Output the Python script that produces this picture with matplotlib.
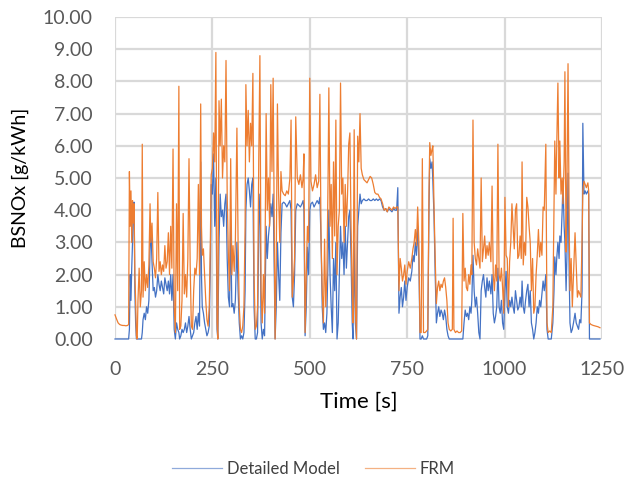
import matplotlib
matplotlib.use("Agg")
import matplotlib.pyplot as plt

plt.rcParams['font.family'] = ['Lato', 'DejaVu Sans']

# time [s]
t = [0, 4, 8, 12, 16, 20, 24, 28, 32, 35,
     37, 39, 41, 43, 45, 47, 49, 51, 53, 55,
     57, 59, 62, 65, 68, 70, 72, 75, 78, 81,
     84, 87, 90, 92, 95, 98, 101, 104, 107, 110,
     113, 116, 119, 122, 125, 128, 131, 134, 137, 140,
     143, 146, 149, 152, 155, 158, 161, 164, 166, 169,
     172, 175, 178, 181, 184, 187, 190, 193, 196, 199,
     202, 205, 208, 211, 214, 217, 220, 222, 224, 227,
     230, 233, 236, 239, 242, 245, 247, 250, 253, 256,
     259, 262, 264, 267, 270, 273, 276, 279, 282, 285,
     288, 291, 294, 297, 300, 303, 306, 309, 313, 316,
     319, 322, 325, 328, 331, 334, 336, 339, 342, 345,
     348, 351, 354, 357, 360, 363, 366, 369, 372, 375,
     378, 381, 384, 388, 391, 394, 397, 400, 403, 406,
     409, 411, 414, 417, 420, 423, 426, 429, 433, 437,
     441, 445, 449, 452, 455, 458, 461, 464, 468, 472,
     476, 480, 483, 485, 488, 491, 494, 497, 500, 503,
     507, 511, 515, 519, 523, 526, 529, 532, 535, 538,
     541, 544, 547, 549, 552, 555, 558, 561, 564, 567,
     570, 573, 576, 579, 582, 585, 588, 591, 594, 597,
     600, 603, 606, 609, 611, 614, 617, 620, 623, 626,
     629, 632, 635, 639, 643, 647, 651, 655, 659, 663,
     667, 671, 675, 679, 683, 687, 691, 695, 699, 703,
     707, 711, 715, 719, 723, 726, 729, 732, 735, 738,
     741, 744, 747, 750, 754, 758, 762, 765, 768, 771,
     774, 777, 780, 783, 786, 789, 792, 796, 800, 803,
     806, 808, 811, 814, 816, 819, 822, 825, 828, 831,
     834, 837, 840, 843, 846, 849, 852, 855, 858, 862,
     866, 868, 870, 874, 878, 882, 886, 890, 893, 896,
     899, 902, 905, 908, 911, 914, 916, 919, 922, 925,
     928, 931, 934, 937, 940, 943, 946, 949, 952, 955,
     958, 961, 965, 968, 971, 974, 977, 980, 983, 986,
     989, 992, 995, 998, 1001, 1004, 1007, 1010, 1013, 1016,
     1019, 1022, 1025, 1028, 1031, 1034, 1037, 1040, 1043, 1045,
     1048, 1051, 1054, 1057, 1060, 1063, 1066, 1069, 1072, 1075,
     1078, 1081, 1084, 1087, 1090, 1093, 1096, 1099, 1102, 1106,
     1109, 1112, 1116, 1120, 1124, 1127, 1129, 1132, 1134, 1137,
     1140, 1142, 1145, 1148, 1150, 1153, 1155, 1158, 1160, 1163,
     1166, 1168, 1171, 1174, 1177, 1181, 1184, 1187, 1190, 1193,
     1196, 1199, 1201, 1204, 1207, 1210, 1214, 1216, 1218, 1222,
     1228, 1234, 1240, 1245]

# BSNOx [g/kWh], detailed model
detailed = [0, 0, 0, 0, 0, 0, 0, 0, 0, 0,
            0.3, 2.0, 1.2, 2.2, 3.0, 4.1, 4.25, 1.5, 0.5, 0,
            0, 0, 0, 0, 0, 0.2, 0.6, 0.8, 0.6, 1.0,
            0.8, 1.2, 2.75, 3.5, 2.4, 1.5, 1.6, 1.3, 1.5, 2.0,
            1.7, 1.5, 1.8, 1.6, 1.4, 1.9, 1.7, 1.5, 1.8, 1.4,
            2.0, 1.2, 2.0, 0.3, 0, 0.5, 0.3, 0.2, 0, 0.1,
            0.3, 0.2, 0.3, 0.5, 0.2, 0.4, 0.7, 0.3, 0, 0.1,
            0.2, 0.5, 0.7, 0.3, 0.8, 0.4, 5.5, 2.0, 1.0, 0.8,
            0.5, 0.3, 0.1, 0.2, 0.4, 2.5, 4.8, 4.5, 5.75, 3.5,
            5.0, 0.3, 0, 3.0, 4.5, 3.8, 4.0, 3.5, 4.2, 4.5,
            2.5, 1.3, 1.0, 3.5, 1.0, 1.1, 0.8, 1.2, 3.0, 1.5,
            0.5, 0, 0.1, 0, 0.2, 1.5, 4.0, 4.8, 5.0, 4.6,
            4.1, 4.8, 5.0, 1.0, 0, 0, 0.2, 3.5, 4.5, 0.5,
            0, 0.3, 0.1, 3.5, 2.5, 3.2, 3.6, 4.2, 3.8, 4.5,
            2.0, 0, 1.0, 3.0, 2.0, 1.2, 3.3, 4.2, 4.25, 4.2,
            4.1, 4.2, 4.3, 4.0, 1.3, 1.0, 2.0, 4.0, 4.2, 4.15,
            4.1, 4.2, 4.3, 4.0, 0.1, 1.0, 2.85, 2.0, 4.0, 4.2,
            4.25, 4.1, 4.2, 4.3, 4.2, 4.4, 3.05, 1.0, 0.3, 0.5,
            0.2, 0.8, 2.5, 4.0, 2.0, 1.0, 0.2, 2.5, 1.5, 3.0,
            0, 0.5, 2.0, 3.5, 2.5, 3.0, 2.0, 3.5, 2.2, 3.0,
            3.8, 4.0, 2.5, 0.5, 0, 3.0, 0.5, 0, 3.5, 4.0,
            4.5, 4.2, 4.3, 4.35, 4.3, 4.3, 4.35, 4.3, 4.3, 4.35,
            4.3, 4.35, 4.3, 4.35, 4.3, 4.1, 4.0, 4.05, 3.95, 4.05,
            4.0, 3.95, 4.05, 4.0, 4.0, 4.7, 0.8, 1.3, 1.6, 1.0,
            1.3, 1.8, 1.2, 1.6, 1.9, 1.8, 2.1, 2.6, 2.4, 3.0,
            2.6, 3.5, 2.5, 0, 0, 0.1, 0, 0, 0, 0.1,
            4.0, 5.6, 5.3, 5.5, 4.9, 3.8, 2.0, 0.5, 0.8, 1.0,
            0.7, 0.9, 0.8, 0.6, 0.9, 0.7, 0.3, 0.1, 0, 0,
            0, 0, 0, 0, 0, 0, 0, 0, 0, 0.5,
            0.9, 0.7, 0.8, 0.6, 1.0, 0.8, 1.2, 2.6, 1.5, 1.0,
            1.3, 0.8, 0.2, 0, 1.5, 1.8, 2.0, 1.6, 1.3, 1.9,
            1.5, 1.8, 1.4, 2.0, 0.8, 0.5, 0.7, 1.0, 2.2, 1.0,
            0.8, 1.2, 0.5, 0.3, 1.5, 2.1, 1.0, 0.8, 1.2, 1.0,
            1.3, 1.0, 0.8, 1.5, 1.2, 0.9, 1.0, 1.3, 1.0, 1.8,
            1.0, 0.8, 1.2, 1.5, 1.7, 1.0, 1.5, 0.5, 0.3, 0,
            0.2, 0.5, 1.0, 0.8, 1.2, 1.0, 1.4, 1.8, 1.5, 2.0,
            0.3, 0, 0, 0, 0.5, 1.5, 2.55, 2.0, 2.5, 3.0,
            2.5, 3.2, 3.0, 4.0, 4.9, 3.5, 3.0, 1.5, 2.5, 5.15,
            2.0, 0.5, 0.2, 0.3, 0.5, 0.8, 0.5, 0.4, 0.3, 0.6,
            0.5, 1.5, 6.7, 4.5, 4.6, 4.5, 4.6, 4.5, 0, 0,
            0, 0, 0, 0]

# BSNOx [g/kWh], FRM
frm = [0.75, 0.62, 0.5, 0.45, 0.43, 0.42, 0.42, 0.41, 0.42, 0.45,
       5.2, 3.5, 4.6, 3.0, 4.3, 3.6, 4.2, 2.0, 1.2, 0.1,
       0, 1.2, 2.2, 1.0, 1.5, 6.05, 1.3, 2.4, 1.5, 2.0,
       1.6, 2.3, 4.2, 3.0, 3.6, 2.4, 2.2, 1.9, 2.5, 4.55,
       2.1, 2.4, 2.0, 2.3, 2.1, 2.9, 2.2, 2.4, 3.3, 2.0,
       3.5, 2.2, 5.9, 1.0, 0.2, 4.2, 1.5, 7.85, 0.3, 0.4,
       1.2, 3.9, 1.4, 2.0, 1.3, 2.5, 5.6, 2.3, 0.4, 0.3,
       1.5, 2.2, 2.0, 2.5, 4.8, 2.0, 7.3, 3.5, 2.6, 2.8,
       2.0, 1.2, 0.6, 0.4, 1.0, 3.2, 5.1, 5.3, 6.4, 5.5,
       8.9, 0.5, 0, 7.4, 6.0, 7.45, 5.0, 6.0, 5.5, 8.65,
       4.5, 2.65, 1.5, 5.6, 2.0, 2.9, 2.1, 3.0, 6.55, 3.0,
       1.0, 0.3, 0.2, 0.4, 1.0, 3.5, 7.9, 6.0, 7.1, 5.5,
       6.7, 6.0, 8.25, 2.0, 0.3, 0.4, 1.0, 5.5, 8.8, 1.5,
       0.5, 2.0, 0.8, 7.0, 4.0, 5.0, 3.5, 7.9, 5.2, 8.1,
       3.0, 0, 2.5, 7.3, 4.5, 3.0, 5.2, 4.6, 4.5, 4.45,
       4.6, 4.5, 5.0, 6.8, 1.3, 1.8, 2.5, 6.9, 5.0, 4.8,
       5.1, 4.7, 5.0, 5.75, 0.2, 2.0, 3.5, 3.0, 8.1, 4.9,
       4.6, 4.8, 5.1, 4.7, 4.9, 7.6, 3.05, 1.5, 0.5, 3.1,
       1.0, 2.0, 5.0, 7.8, 3.5, 4.8, 2.5, 5.5, 3.2, 6.8,
       2.0, 3.5, 4.0, 7.95, 4.5, 5.0, 3.0, 4.8, 3.5, 4.5,
       6.05, 6.4, 3.5, 1.5, 0.5, 6.5, 1.0, 0, 6.3, 5.5,
       7.0, 5.3, 5.1, 4.95, 4.9, 4.85, 4.95, 5.05, 5.0, 4.8,
       4.55, 4.5, 4.5, 4.4, 4.35, 4.2, 4.0, 4.05, 3.95, 4.1,
       4.05, 4.0, 4.1, 4.05, 4.1, 4.1, 1.5, 2.5, 2.2, 1.8,
       2.0, 2.3, 1.7, 2.1, 2.4, 2.2, 2.5, 2.8, 3.0, 3.4,
       2.9, 4.1, 3.0, 0.2, 0.2, 5.6, 0.2, 0.2, 0.25, 0.3,
       4.5, 6.1, 5.7, 5.9, 6.0, 4.1, 2.5, 1.1, 1.6, 1.8,
       1.5, 1.7, 1.6, 1.8, 1.9, 1.6, 1.2, 0.5, 0.3, 0.25,
       0.3, 3.75, 0.3, 0.2, 0.25, 0.2, 0.2, 0.25, 3.9, 1.8,
       2.2, 1.6, 1.5, 2.0, 1.7, 2.3, 2.0, 6.8, 3.0, 2.5,
       2.3, 2.8, 2.5, 2.2, 5.0, 2.4, 2.8, 3.2, 2.5, 2.9,
       2.6, 3.0, 2.4, 4.75, 2.0, 1.5, 2.3, 1.8, 6.05, 2.0,
       1.8, 2.2, 1.6, 0.8, 4.4, 2.6, 2.5, 1.0, 2.4, 3.0,
       4.2, 3.5, 2.8, 4.0, 4.2, 2.5, 2.6, 3.2, 2.5, 5.5,
       2.3, 3.0, 2.6, 4.4, 4.1, 3.5, 3.0, 1.5, 2.5, 0.8,
       1.0, 2.0, 2.6, 3.4, 2.55, 3.0, 2.6, 4.1, 4.0, 6.05,
       0.5, 0.2, 0.25, 0.2, 1.0, 4.0, 6.15, 4.5, 6.0, 7.95,
       5.0, 6.15, 4.5, 5.0, 4.2, 5.5, 8.3, 2.7, 4.5, 8.55,
       3.5, 1.5, 2.5, 1.0, 2.0, 3.3, 2.3, 1.3, 1.5, 1.4,
       1.3, 3.1, 4.6, 4.9, 4.8, 4.7, 4.85, 4.6, 0.5, 0.45,
       0.42, 0.4, 0.38, 0.35]

x_ticks = [0, 250, 500, 750, 1000, 1250]
y_ticks = [0, 1, 2, 3, 4, 5, 6, 7, 8, 9, 10]

fig = plt.figure(figsize=(6.27, 4.78), dpi=100)
ax = fig.add_axes([0.1834, 0.2908, 0.7766, 0.6736])

ax.plot(t, detailed, color='#4472C4', lw=0.9, label='Detailed Model', clip_on=False, zorder=3)
ax.plot(t, frm, color='#ED7D31', lw=0.9, label='FRM', clip_on=False, zorder=4)

ax.set_xlim(0, 1250)
ax.set_ylim(0, 10)
ax.set_xticks(x_ticks)
ax.set_yticks(y_ticks)
ax.set_yticklabels(["{:.2f}".format(v) for v in y_ticks])
ax.grid(True, color='#d9d9d9', lw=1.6, zorder=0)
ax.set_axisbelow(True)
for s in ax.spines.values():
    s.set_visible(False)
ax.tick_params(length=0, labelsize=14, labelcolor='#595959')
ax.tick_params(axis='x', pad=16)
ax.tick_params(axis='y', pad=16)

ax.set_xlabel("Time [s]", fontsize=16, color='black', labelpad=10)
ax.set_ylabel("BSNOx [g/kWh]", fontsize=14, color='black', labelpad=10)

fig.legend(loc='center', bbox_to_anchor=(0.5, 0.019), ncol=2, frameon=False,
           fontsize=12, handlelength=3.0, handletextpad=0.3, columnspacing=1.5)
leg = fig.legends[0]
for h in leg.get_lines():
    h.set_alpha(0.6)
for txt in leg.get_texts():
    txt.set_color('#404040')

fig.savefig("out.png", dpi=100)
